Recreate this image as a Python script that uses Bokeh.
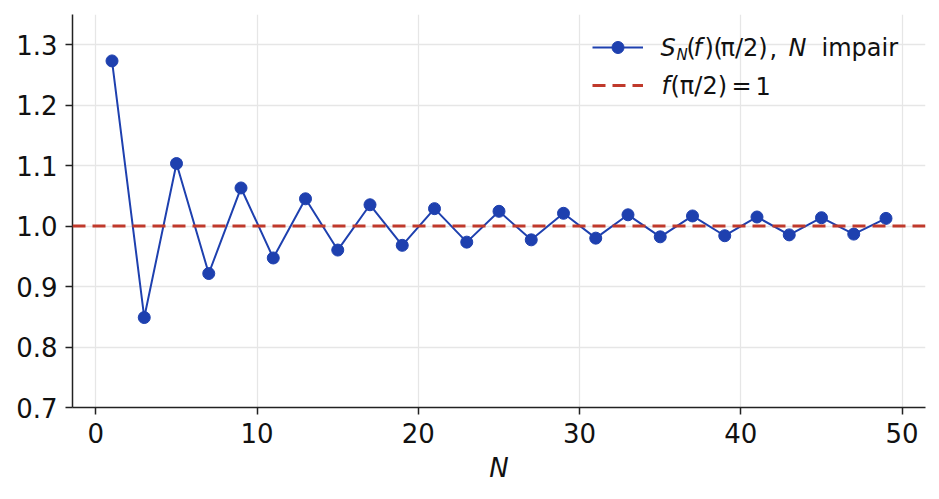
from bokeh.plotting import figure
from bokeh.models import Span, Label, Legend, LegendItem, FixedTicker, Range1d, NumeralTickFormatter
from bokeh.embed import file_html
from bokeh.resources import INLINE

# N impair, valeurs de S_N(f)(pi/2)
n_values = [1, 3, 5, 7, 9, 11, 13, 15, 17, 19, 21, 23, 25,
            27, 29, 31, 33, 35, 37, 39, 41, 43, 45, 47, 49]
s_values = [1.2732, 0.8488, 1.1035, 0.9216, 1.0631, 0.9473, 1.0452, 0.9604,
            1.0353, 0.9682, 1.0289, 0.9735, 1.0245, 0.9773, 1.0212, 0.9801,
            1.0187, 0.9823, 1.0168, 0.9841, 1.0151, 0.9855, 1.0139, 0.9868,
            1.0128]
f_value = 1.0
x_ticks = [0, 10, 20, 30, 40, 50]
y_ticks = [0.7, 0.8, 0.9, 1.0, 1.1, 1.2, 1.3]

BLUE = "#1e40af"
RED = "#c0392b"
FONT = "DejaVu Sans"

p = figure(width=931, height=491, output_backend="svg", toolbar_location=None,
           x_range=Range1d(-1.45, 51.45), y_range=Range1d(0.7, 1.35),
           min_border_left=72, min_border_right=6, min_border_top=14, min_border_bottom=84)
p.outline_line_color = None

for ax in (p.xaxis, p.yaxis):
    ax.axis_line_color = "#222222"
    ax.axis_line_width = 1.5
    ax.major_tick_line_color = "#222222"
    ax.major_tick_line_width = 1.5
    ax.major_tick_out = 7
    ax.major_tick_in = 0
    ax.minor_tick_line_color = None
    ax.major_label_text_font = FONT
    ax.major_label_text_font_size = "26px"
    ax.major_label_text_color = "#111111"
    ax.major_label_standoff = 8

p.xaxis.ticker = FixedTicker(ticks=x_ticks)
p.yaxis.ticker = FixedTicker(ticks=y_ticks)
p.yaxis.formatter = NumeralTickFormatter(format="0.0")
p.xaxis.axis_label = "N"
p.xaxis.axis_label_text_font = FONT
p.xaxis.axis_label_text_font_style = "italic"
p.xaxis.axis_label_text_font_size = "26px"
p.xaxis.axis_label_text_color = "#111111"
p.xaxis.axis_label_standoff = 7

p.grid.grid_line_color = "#e6e6e6"
p.grid.grid_line_width = 1.3

ref = Span(location=f_value, dimension="width", line_color=RED, line_width=3, line_dash="13 7")
p.add_layout(ref)

line = p.line(n_values, s_values, line_color=BLUE, line_width=2)
pts = p.scatter(n_values, s_values, size=12, fill_color=BLUE, line_color=BLUE)
# glyphe pour la légende de la ligne pointillée (un seul point : rien n'est tracé)
dash = p.line(n_values[:1], [f_value], line_color=RED, line_width=3, line_dash="13 7")

legend = Legend(items=[LegendItem(label=" ", renderers=[line, pts]),
                       LegendItem(label=" ", renderers=[dash])],
                location=(520, 307), orientation="vertical",
                glyph_width=51, glyph_height=30, spacing=8, padding=0, margin=0,
                border_line_color=None, background_fill_alpha=0,
                label_text_font_size="10px")
p.add_layout(legend, "center")

# textes de la légende (avec indices et italiques), en pixels depuis le coin bas-gauche du cadre
def lab(x, y, text, size="24px", style="normal"):
    p.add_layout(Label(x=x, y=y, x_units="screen", y_units="screen", text=text,
                       text_font=FONT, text_font_size=size, text_font_style=style,
                       text_baseline="middle", text_color="#111111"))

lab(588, 360, "S", style="italic")
lab(604, 353, "N", size="15px", style="italic")
lab(614, 360, "(")
lab(621, 360, "f", style="italic")
lab(632, 360, ")")
lab(641, 360, "(")
lab(648, 360, "π/2)")
lab(697, 360, ",")
lab(716, 360, "N", style="italic")
lab(749, 360, "impair")
lab(589, 322, "f", style="italic")
lab(598, 322, "(π/2)")
lab(659, 322, "=")
lab(683, 322, "1")

open("out.html", "w").write(file_html(p, INLINE))
